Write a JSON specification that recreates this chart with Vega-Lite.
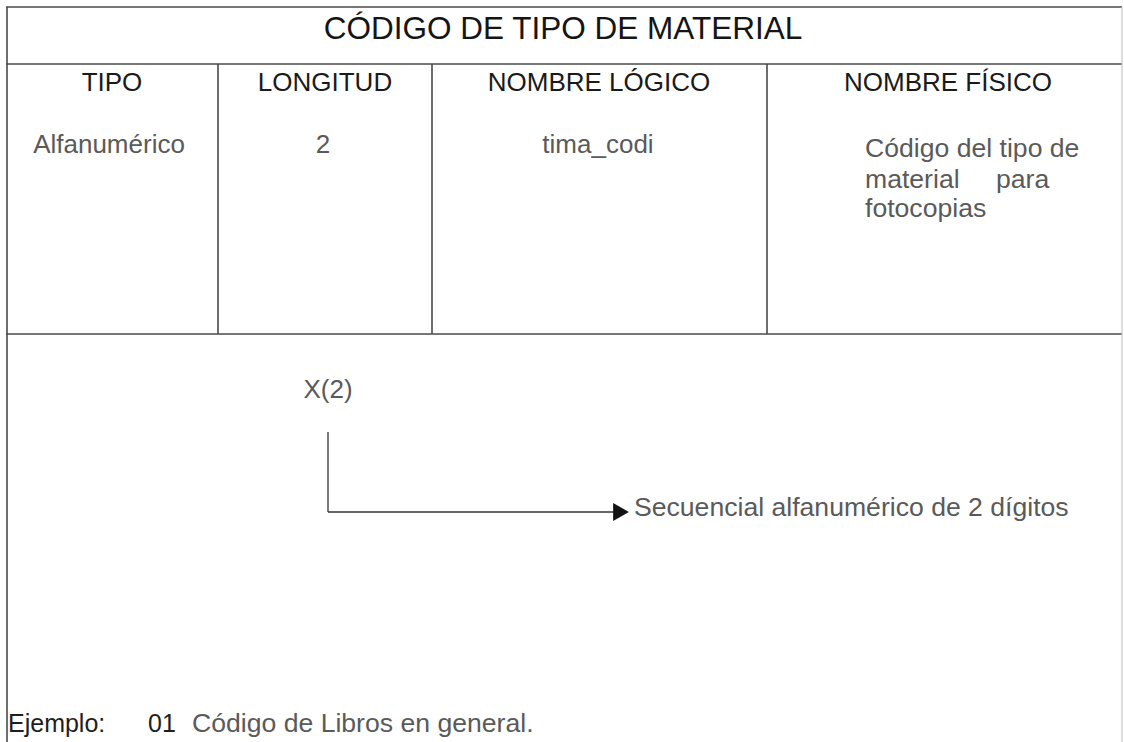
{
  "$schema": "https://vega.github.io/schema/vega-lite/v6.json",
  "width": 1124,
  "height": 742,
  "padding": 0,
  "autosize": {"type": "none"},
  "background": "white",
  "config": {"view": {"stroke": null}, "text": {"font": "Liberation Sans"}},
  "datasets": {
    "frame": [
      {"x1": 6, "x2": 1122, "y1": 7, "y2": 7},
      {"x1": 6, "x2": 1122, "y1": 64, "y2": 64},
      {"x1": 6, "x2": 1122, "y1": 334, "y2": 334},
      {"x1": 7, "x2": 7, "y1": 7, "y2": 742},
      {"x1": 218, "x2": 218, "y1": 64, "y2": 334},
      {"x1": 432, "x2": 432, "y1": 64, "y2": 334},
      {"x1": 767, "x2": 767, "y1": 64, "y2": 334}
    ],
    "rightEdge": [
      {"x1": 1122, "x2": 1122, "y1": 7, "y2": 742}
    ],
    "arrowLines": [
      {"x1": 328, "x2": 328, "y1": 432, "y2": 512},
      {"x1": 328, "x2": 618, "y1": 512, "y2": 512}
    ],
    "arrowHead": [
      {"x": 621, "y": 512}
    ],
    "title": [
      {"x": 563, "y": 30, "label": "CÓDIGO DE TIPO DE MATERIAL"}
    ],
    "headers": [
      {"x": 112, "y": 83, "label": "TIPO"},
      {"x": 325, "y": 83, "label": "LONGITUD"},
      {"x": 599, "y": 83, "label": "NOMBRE LÓGICO"},
      {"x": 948, "y": 83, "label": "NOMBRE FÍSICO"}
    ],
    "cellsCenter": [
      {"x": 109, "y": 145, "label": "Alfanumérico"},
      {"x": 323, "y": 145, "label": "2"},
      {"x": 598, "y": 145, "label": "tima_codi"},
      {"x": 328, "y": 390, "label": "X(2)"}
    ],
    "cellsLeft": [
      {"x": 865, "y": 149, "label": "Código del tipo de"},
      {"x": 865, "y": 180, "label": "material"},
      {"x": 996, "y": 180, "label": "para"},
      {"x": 865, "y": 209, "label": "fotocopias"},
      {"x": 634, "y": 508, "label": "Secuencial alfanumérico de 2 dígitos"},
      {"x": 192, "y": 724, "label": "Código de Libros en general."}
    ],
    "dark": [
      {"x": 8, "y": 724, "label": "Ejemplo:"},
      {"x": 148, "y": 724, "label": "01"}
    ]
  },
  "layer": [
    {
      "data": {"name": "frame"},
      "mark": {"type": "rule", "color": "#4a4a4a", "strokeWidth": 1.6},
      "encoding": {
        "x": {"field": "x1", "type": "quantitative", "scale": {"domain": [0, 1124], "nice": false, "zero": false}, "axis": null},
        "x2": {"field": "x2"},
        "y": {"field": "y1", "type": "quantitative", "scale": {"domain": [0, 742], "nice": false, "zero": false, "reverse": true}, "axis": null},
        "y2": {"field": "y2"}
      }
    },
    {
      "data": {"name": "rightEdge"},
      "mark": {"type": "rule", "color": "#c8c8c8", "strokeWidth": 1.2},
      "encoding": {
        "x": {"field": "x1", "type": "quantitative"},
        "x2": {"field": "x2"},
        "y": {"field": "y1", "type": "quantitative"},
        "y2": {"field": "y2"}
      }
    },
    {
      "data": {"name": "arrowLines"},
      "mark": {"type": "rule", "color": "#333333", "strokeWidth": 1.3},
      "encoding": {
        "x": {"field": "x1", "type": "quantitative"},
        "x2": {"field": "x2"},
        "y": {"field": "y1", "type": "quantitative"},
        "y2": {"field": "y2"}
      }
    },
    {
      "data": {"name": "arrowHead"},
      "mark": {"type": "point", "shape": "triangle-right", "filled": true, "color": "#111111", "size": 330, "opacity": 1},
      "encoding": {
        "x": {"field": "x", "type": "quantitative"},
        "y": {"field": "y", "type": "quantitative"}
      }
    },
    {
      "data": {"name": "title"},
      "mark": {"type": "text", "fontSize": 31.5, "color": "#151515", "align": "center", "baseline": "middle"},
      "encoding": {
        "x": {"field": "x", "type": "quantitative"},
        "y": {"field": "y", "type": "quantitative"},
        "text": {"field": "label"}
      }
    },
    {
      "data": {"name": "headers"},
      "mark": {"type": "text", "fontSize": 26, "color": "#1a1a1a", "align": "center", "baseline": "middle"},
      "encoding": {
        "x": {"field": "x", "type": "quantitative"},
        "y": {"field": "y", "type": "quantitative"},
        "text": {"field": "label"}
      }
    },
    {
      "data": {"name": "cellsCenter"},
      "mark": {"type": "text", "fontSize": 26, "color": "#5a5a5a", "align": "center", "baseline": "middle"},
      "encoding": {
        "x": {"field": "x", "type": "quantitative"},
        "y": {"field": "y", "type": "quantitative"},
        "text": {"field": "label"}
      }
    },
    {
      "data": {"name": "cellsLeft"},
      "mark": {"type": "text", "fontSize": 26.6, "color": "#5a5a5a", "align": "left", "baseline": "middle"},
      "encoding": {
        "x": {"field": "x", "type": "quantitative"},
        "y": {"field": "y", "type": "quantitative"},
        "text": {"field": "label"}
      }
    },
    {
      "data": {"name": "dark"},
      "mark": {"type": "text", "fontSize": 25, "color": "#1e1e1e", "align": "left", "baseline": "middle"},
      "encoding": {
        "x": {"field": "x", "type": "quantitative"},
        "y": {"field": "y", "type": "quantitative"},
        "text": {"field": "label"}
      }
    }
  ]
}
